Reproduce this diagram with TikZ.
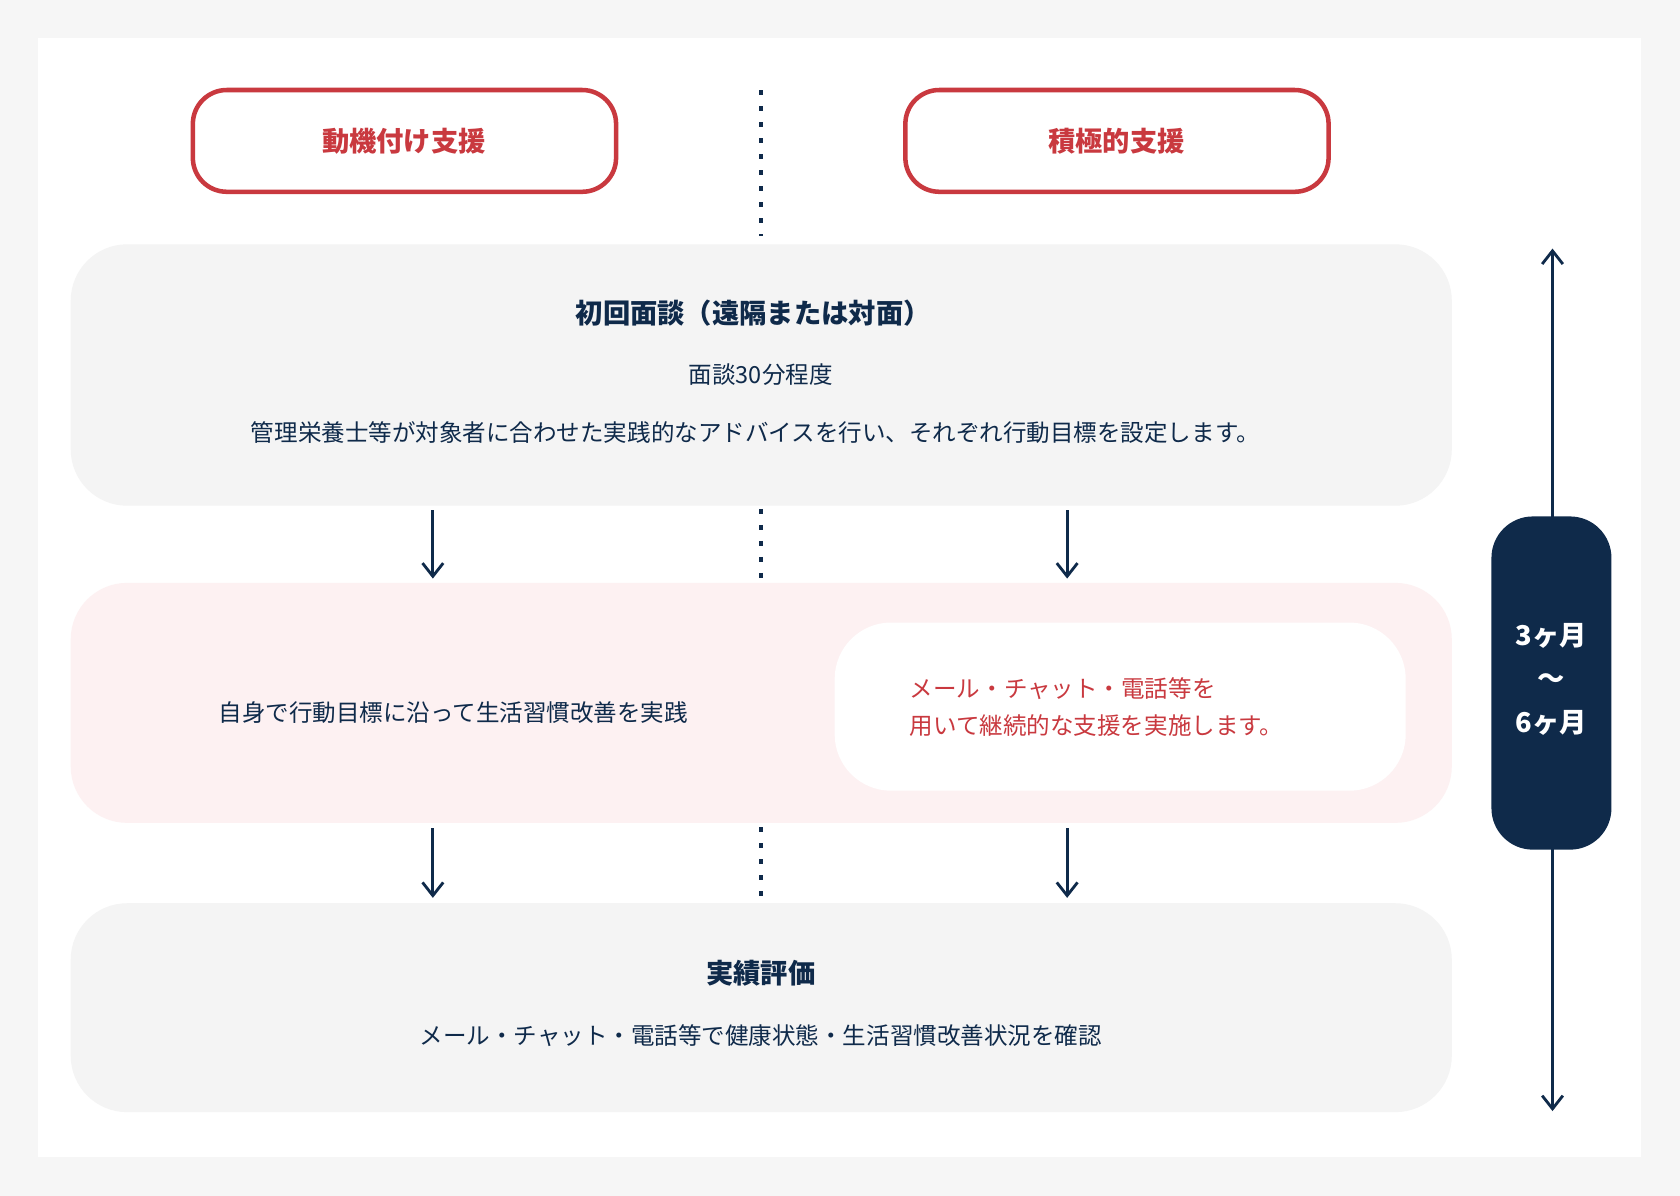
\documentclass[tikz,border=0pt]{standalone}
\usepackage{fontspec}
\setmainfont{Noto Sans CJK JP}
\usetikzlibrary{arrows.meta}
\definecolor{navy}{HTML}{0F2A4A}
\definecolor{accent}{HTML}{C9393F}
\definecolor{panel}{HTML}{F4F4F4}
\definecolor{pinkbg}{HTML}{FDF1F2}
\tikzset{
    tab/.style={draw=accent, line width=2.4pt, rounded corners=18pt, fill=white}, % header tabs
    panelbox/.style={fill=panel, rounded corners=30pt}, % gray step boxes
    flow/.style={-{Straight Barb[length=7pt,width=11pt]}, navy, line width=1.5pt},
    divider/.style={navy, line width=2pt, dash pattern=on 2.5pt off 6pt},
    body/.style={text=navy, font=\fontsize{12.5}{16}\selectfont},
    head/.style={text=navy, font=\fontsize{14.5}{18}\selectfont\bfseries},
}
\begin{document}
\begin{tikzpicture}[x=0.02cm,y=-0.02cm]
\fill[panel!80!white] (0,0) rectangle (1568,1116);
\useasboundingbox (0,0) rectangle (1568,1116);
\fill[white] (35,35) rectangle (1532,1080);
% tabs
\draw[tab] (180,84) rectangle (575,179);
\node[text=accent, font=\fontsize{14.5}{18}\selectfont\bfseries] (tabA) at (377,132) {動機付け支援};
\draw[tab] (845,84) rectangle (1240,179);
\node[text=accent, font=\fontsize{14.5}{18}\selectfont\bfseries] (tabB) at (1042,132) {積極的支援};
% dividers
\coordinate (d1) at (710,84); \coordinate (d2) at (710,220);
\coordinate (d3) at (710,475); \coordinate (d4) at (710,540);
\coordinate (d5) at (710,772); \coordinate (d6) at (710,842);
\draw[divider] (d1) -- (d2);
\draw[divider] (d3) -- (d4);
\draw[divider] (d5) -- (d6);
% step 1
\fill[panelbox] (66,228) rectangle (1355,472);
\node[head] (t1) at (703,292) {初回面談（遠隔または対面）};
\node[body] (s1) at (710,350) {面談30分程度};
\node[body] (b1) at (705,404) {管理栄養士等が対象者に合わせた実践的なアドバイスを行い、それぞれ行動目標を設定します。};
% step 2
\fill[pinkbg, rounded corners=30pt] (66,544) rectangle (1355,768);
\node[body] (b2) at (423,665) {自身で行動目標に沿って生活習慣改善を実践};
\fill[white, rounded corners=30pt] (779,581) rectangle (1312,738);
\node[text=accent, font=\fontsize{12.5}{20}\selectfont, align=left, anchor=west] (b3) at (843,660) {メール・チャット・電話等を\\用いて継続的な支援を実施します。};
% step 3
\fill[panelbox] (66,843) rectangle (1355,1038);
\node[head] (t3) at (710,908) {実績評価};
\node[body] (b4) at (710,967) {メール・チャット・電話等で健康状態・生活習慣改善状況を確認};
% arrows
\coordinate (a1) at (404,476); \coordinate (a2) at (404,540);
\coordinate (a3) at (996,476); \coordinate (a4) at (996,540);
\coordinate (a5) at (404,773); \coordinate (a6) at (404,838);
\coordinate (a7) at (996,773); \coordinate (a8) at (996,838);
\draw[flow] (a1) -- (a2);
\draw[flow] (a3) -- (a4);
\draw[flow] (a5) -- (a6);
\draw[flow] (a7) -- (a8);
% period
\coordinate (top) at (1449,232); \coordinate (bot) at (1449,1037);
\draw[flow, {Straight Barb[length=7pt,width=11pt]}-{Straight Barb[length=7pt,width=11pt]}] (top) -- (bot);
\fill[navy, rounded corners=22pt] (1392,482) rectangle (1504,793);
\node[text=white, font=\fontsize{14.5}{23}\selectfont\bfseries, align=center] (span) at (1448,634) {3ヶ月\\～\\6ヶ月};
\end{tikzpicture}
\end{document}
